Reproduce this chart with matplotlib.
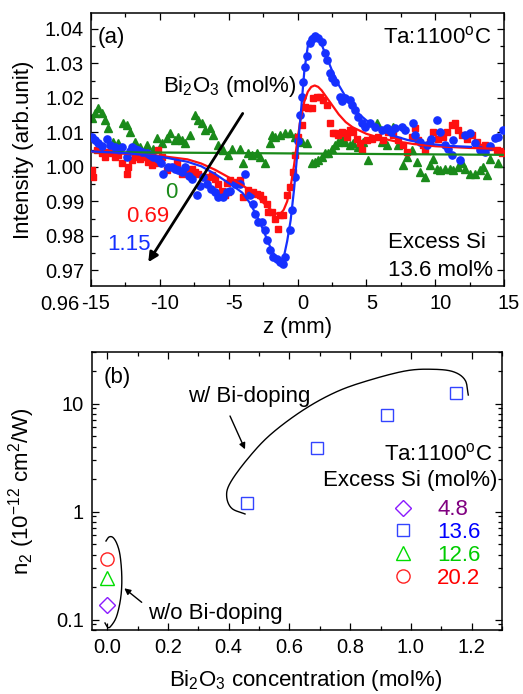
import numpy as np
import matplotlib
matplotlib.use("Agg")
import matplotlib.pyplot as plt
import matplotlib.transforms as mtransforms
from matplotlib.ticker import MultipleLocator, FixedLocator, FuncFormatter, LogLocator, NullFormatter

plt.rcParams['font.family'] = ['Liberation Sans', 'DejaVu Sans']
plt.rcParams['mathtext.fontset'] = 'custom'
plt.rcParams['mathtext.rm'] = 'Liberation Sans'
plt.rcParams['mathtext.it'] = 'Liberation Sans:italic'
plt.rcParams['mathtext.default'] = 'regular'

# ---------------- Panel (a) data: Z-scan traces ----------------
z_115 = [-14.95, -14.71, -14.47, -14.2, -13.86, -13.62, -13.26, -13.0, -12.77, -12.41, -12.2, -12.05,
         -11.8, -11.56, -11.3, -10.96, -10.7, -10.47, -10.11, -9.9, -9.75, -9.39, -9.14, -8.9, -8.66,
         -8.4, -8.17, -7.9, -7.69, -7.33, -7.1, -6.84, -6.6, -6.3, -6.0, -5.75, -5.39, -5.15,
         -4.90, -4.54, -4.18, -3.82, -3.45, -3.21, -3.09, -2.85, -2.61, -2.36, -2.24, -2.00, -1.76,
         -1.52, -1.28, -1.03, -0.91, -0.55, -0.43, -0.19, 0.06, 0.18, 0.30, 0.42, 0.54, 0.66, 0.90,
         1.07, 1.27, 1.51, 1.75, 1.99, 2.11, 2.36, 2.48, 2.72, 3.08, 3.20, 3.45, 3.81, 3.93, 4.17,
         4.41, 4.66, 4.90, 5.26, 5.62, 6.11, 6.47, 6.8, 7.08, 7.56, 7.80, 8.41, 8.53, 8.89, 9.38,
         9.7, 10.10, 10.34, 10.71, 10.95, 11.19, 11.31, 11.80, 12.16, 12.52, 12.89, 13.25, 13.61,
         14.0, 14.34, 14.58, 14.94]
T_115 = [1.0087, 1.0078, 1.0068, 1.0060, 1.0082, 1.0063, 1.0058, 1.0050, 1.0058, 1.0030, 1.0045, 1.0058,
         1.0052, 1.0049, 1.0042, 1.0039, 1.0035, 1.0030, 1.0024, 1.0010, 0.9980, 1.0000, 1.0000, 0.9995, 0.9990,
         0.9985, 1.0000, 0.9975, 0.9966, 0.9920, 0.9945, 0.9970, 0.9950, 0.9935, 0.9928, 0.9913, 0.9913, 0.9928,
         0.9930, 0.9950, 0.9950, 0.9980, 0.9920, 0.9894, 0.9865, 0.9840, 0.9840, 0.9816, 0.9787, 0.9760, 0.9740,
         0.9734, 0.9724, 0.9720, 0.9740, 0.9816, 0.9874, 0.9970, 1.0075, 1.0150, 1.0204, 1.0247, 1.0290, 1.0320, 1.0360,
         1.0370, 1.0378, 1.0373, 1.0363, 1.0329, 1.0310, 1.0271, 1.0257, 1.0247, 1.0204, 1.0190, 1.0199, 1.0194, 1.0180, 1.0165,
         1.0145, 1.0126, 1.0116, 1.0126, 1.0116, 1.0107, 1.0112, 1.0100, 1.0112, 1.0116, 1.0107, 1.0126, 1.0092, 1.0073, 1.0063,
         1.0080, 1.0136, 1.0102, 1.0063, 1.0053, 1.0034, 1.0078, 1.0020, 1.0092, 1.0097, 1.0068, 1.0049, 1.0044,
         1.0060, 1.0083, 1.0088, 1.0107]

z_069 = [-14.95, -14.83, -14.59, -14.23, -13.98, -13.74, -13.50, -13.26, -13.02, -12.77, -12.41, -12.29,
         -12.05, -11.80, -11.44, -11.08, -10.84, -10.60, -10.35, -10.11, -9.87, -9.50, -9.14, -8.78, -8.42,
         -8.05, -7.69, -7.45, -7.21, -6.84, -6.48, -6.24, -6.00, -5.75, -5.51, -5.27, -5.15, -5.03, -4.91,
         -4.54, -4.18, -3.94, -3.57, -3.21, -2.97, -2.73, -2.49, -2.24, -2.12, -1.88, -1.64, -1.40, -1.28,
         -1.03, -0.79, -0.55, -0.31, -0.19, 0.06, 0.30, 0.54, 0.78, 1.03, 1.15, 1.39, 1.63, 1.87, 2.11,
         2.36, 2.60, 2.72, 2.96, 3.20, 3.45, 3.57, 3.81, 4.05, 4.29, 4.54, 4.66, 5.02, 5.38, 5.87, 6.23,
         6.59, 6.96, 7.32, 7.68, 7.92, 8.29, 8.53, 8.77, 9.13, 9.26, 9.62, 9.86, 10.22, 10.59, 10.83,
         11.19, 11.43, 11.68, 11.92, 12.28, 12.64, 13.01, 13.25, 13.61, 13.98, 14.46, 14.82]
T_069 = [0.9990, 0.9971, 1.0049, 1.0039, 1.0030, 1.0044, 1.0040, 1.0030, 1.0034, 1.0010, 0.9980, 1.0000,
         1.0020, 1.0030, 1.0024, 1.0030, 1.0015, 1.0005, 1.0010, 1.0049, 1.0030, 0.9990, 1.0000, 1.0010, 0.9980,
         0.9990, 0.9995, 0.9985, 0.9980, 0.9970, 0.9970, 0.9976, 0.9965, 0.9950, 0.9930, 0.9918, 0.9952, 0.9928, 0.9961,
         0.9956, 0.9961, 0.9913, 0.9932, 0.9928, 0.9923, 0.9918, 0.9908, 0.9894, 0.9870, 0.9870, 0.9850, 0.9820, 0.9860,
         0.9860, 0.9918, 0.9942, 0.9985, 1.0034, 1.0087, 1.0121, 1.0174, 1.0170, 1.0170, 1.0199, 1.0204, 1.0204, 1.0194, 1.0180,
         1.0126, 1.0097, 1.0097, 1.0092, 1.0102, 1.0097, 1.0087, 1.0107, 1.0102, 1.0082, 1.0068, 1.0049, 1.0078, 1.0082, 1.0087, 1.0078,
         1.0102, 1.0092, 1.0078, 1.0063, 1.0044, 1.0087, 1.0112, 1.0078, 1.0063, 1.0049, 1.0073, 1.0102, 1.0082, 1.0087, 1.0102,
         1.0121, 1.0126, 1.0107, 1.0092, 1.0082, 1.0092, 1.0073, 1.0058, 1.0063, 1.0058, 1.0049, 1.0039]

z_0 = [-14.95, -14.71, -14.47, -14.23, -13.98, -13.74, -13.38, -13.02, -12.65, -12.41, -12.17, -11.80,
       -11.44, -10.96, -10.47, -10.23, -9.87, -9.50, -9.26, -8.90, -8.66, -8.42, -8.17, -7.81, -7.45,
       -7.21, -6.96, -6.72, -6.36, -6.12, -5.75, -5.39, -5.03, -4.79, -4.18, -3.94, -3.57, -3.33, -2.97,
       -2.73, -2.36, -2.00, -1.88, -1.64, -1.28, -0.91, -0.55, -0.19, 0.06, 0.30, 0.66, 1.03, 1.27, 1.51,
       1.75, 1.99, 2.24, 2.48, 2.72, 2.96, 3.20, 3.45, 3.81, 4.05, 4.41, 4.78, 5.14, 5.75, 6.11, 6.47,
       6.96, 7.32, 7.68, 7.92, 8.29, 8.65, 8.89, 9.26, 9.62, 9.86, 10.10, 10.34, 10.71, 11.07, 11.31,
       11.68, 11.92, 12.16, 12.52, 12.89, 13.25, 13.49, 13.74, 13.98, 14.58]
T_0 = [1.0141, 1.0155, 1.0170, 1.0155, 1.0136, 1.0112, 1.0073, 1.0068, 1.0126, 1.0121, 1.0102, 1.0073,
       1.0058, 1.0063, 1.0053, 1.0083, 1.0068, 1.0083, 1.0097, 1.0078, 1.0087, 1.0078, 1.0068, 1.0092, 1.0150,
       1.0136, 1.0126, 1.0107, 1.0112, 1.0092, 1.0063, 1.0049, 1.0034, 1.0053, 1.0053, 1.0010, 1.0039, 1.0034, 1.0039,
       1.0030, 1.0010, 1.0068, 1.0092, 1.0087, 1.0092, 1.0097, 1.0097, 1.0087, 1.0087, 1.0073, 1.0068, 1.0010, 1.0015, 1.0020,
       1.0030, 1.0039, 1.0039, 1.0053, 1.0063, 1.0073, 1.0082, 1.0073, 1.0063, 1.0068, 1.0058, 1.0073, 1.0020, 1.0126, 1.0073, 1.0063,
       1.0116, 1.0063, 1.0005, 1.0030, 1.0049, 1.0015, 0.9986, 0.9970, 1.0005, 1.0024, 0.9995, 0.9990, 0.9995, 0.9995, 0.9990,
       1.0000, 1.0010, 0.9995, 0.9980, 0.9980, 0.9990, 1.0000, 0.9976, 1.0024, 1.0010]

# fitted curves
zfit_115 = [-15, -12.5, -10, -8, -7, -6, -5, -4.5, -4, -3.5, -3, -2.5, -2, -1.75, -1.5, -1.25, -1.0,
            -0.75, -0.5, -0.25, 0, 0.25, 0.5, 0.75, 1.0, 1.25, 1.5, 1.75, 2.0, 2.5, 3.0, 3.5, 4.0, 4.5,
            5.0, 6.0, 7.0, 8.0, 9.0, 10.0, 11.0, 12.6]
Tfit_115 = [1.0045, 1.0040, 1.0030, 1.0015, 1.0002, 0.9980, 0.9953, 0.9940, 0.9925, 0.9898, 0.9862, 0.9818,
            0.9770, 0.9750, 0.9736, 0.9729, 0.9738, 0.9785, 0.9845, 0.9935, 1.0045, 1.0160, 1.0280, 1.0350,
            1.0378, 1.0383, 1.0375, 1.0355, 1.0330, 1.0280, 1.0237, 1.0203, 1.0175, 1.0152, 1.0135, 1.0108,
            1.0090, 1.0078, 1.0070, 1.0065, 1.0061, 1.0058]
zfit_069 = [-15, -12.5, -10, -8, -7, -6, -5, -4, -3, -2.5, -2, -1.6, -1.4, -1.2, -1.0, -0.75, -0.5,
            -0.25, 0, 0.25, 0.5, 0.75, 1.0, 1.25, 1.5, 1.75, 2.0, 2.5, 3.0, 3.5, 4.0, 5.0, 6.0, 7.0, 8.5,
            10, 12.5, 15]
Tfit_069 = [1.0044, 1.0038, 1.0032, 1.0022, 1.0010, 0.9992, 0.9970, 0.9947, 0.9918, 0.9897, 0.9878, 0.9866,
            0.9863, 0.9866, 0.9876, 0.9900, 0.9943, 1.0005, 1.0080, 1.0145, 1.0190, 1.0218, 1.0232, 1.0236,
            1.0232, 1.0222, 1.0208, 1.0180, 1.0152, 1.0130, 1.0115, 1.0096, 1.0084, 1.0075, 1.0066, 1.0060,
            1.0055, 1.0052]
zfit_0 = [-15, 15]
Tfit_0 = [1.0043, 1.0035]

# ---------------- Panel (b) data ----------------
nodope_conc = [0.0, 0.0, 0.0]
nodope_n2 = [0.135, 0.243, 0.365]        # excess Si 4.8, 12.6, 20.2
dope_conc = [0.46, 0.69, 0.92, 1.15]
dope_n2 = [1.21, 3.86, 7.9, 12.4]        # excess Si 13.6
legend_labels = ['4.8', '13.6', '12.6', '20.2']

FS_TICK = 14.5
FS_TXT = 16

fig = plt.figure(figsize=(5.23, 6.94), dpi=100)
W, H = 523.0, 694.0
axa = fig.add_axes([91 / W, 1 - 286 / H, 413 / W, 273 / H])
axb = fig.add_axes([92 / W, 1 - 630 / H, 410 / W, 278 / H])

for ax in (axa, axb):
    for s in ax.spines.values():
        s.set_linewidth(1.1)
    ax.tick_params(which='both', direction='in', top=True, right=True, width=0.9,
                   labelsize=FS_TICK)
    ax.tick_params(which='major', length=5)
    ax.tick_params(which='minor', length=3)

# ---- panel (a)
axa.plot(z_0, T_0, linestyle='none', marker='^', ms=5.5, color='#1a8a1a', mec='#1a8a1a', zorder=2)
axa.plot(z_069, T_069, linestyle='none', marker='s', ms=4.6, color='#ff1010', mec='#ff1010', zorder=3)
axa.plot(z_115, T_115, linestyle='none', marker='o', ms=5.2, color='#1530ff', mec='#1530ff', zorder=4)
axa.plot(zfit_0, Tfit_0, color='#1a8a1a', lw=1.6, zorder=5)
axa.plot(zfit_069, Tfit_069, color='#ff1010', lw=1.6, zorder=5)
axa.plot(zfit_115, Tfit_115, color='#1530ff', lw=1.6, zorder=6)

axa.set_xlim(-15, 15)
axa.set_ylim(0.9655, 1.0446)
axa.xaxis.set_major_locator(MultipleLocator(5))
axa.xaxis.set_minor_locator(MultipleLocator(2.5))
axa.yaxis.set_major_locator(FixedLocator([0.97, 0.98, 0.99, 1.00, 1.01, 1.02, 1.03, 1.04]))
axa.yaxis.set_minor_locator(MultipleLocator(0.005))
axa.yaxis.set_major_formatter(FuncFormatter(lambda v, p: f"{v:.2f}"))
axa.xaxis.set_major_formatter(FuncFormatter(lambda v, p: f"{v:.0f}"))
axa.tick_params(axis='x', which='major', pad=6)
axa.tick_params(axis='y', which='major', pad=5)
axa.text(-0.027, 0.9600, "0.96", transform=axa.get_yaxis_transform(), ha='right', va='center',
         fontsize=FS_TICK, clip_on=False)

axa.set_xlabel("z (mm)", fontsize=FS_TXT)
axa.set_ylabel("Intensity (arb.unit)", fontsize=FS_TXT)
axa.xaxis.set_label_coords(0.5, -0.112)
axa.yaxis.set_label_coords(-0.138, 0.5)

axa.text(0.017, 0.889, "(a)", transform=axa.transAxes, fontsize=FS_TXT, ha='left', va='baseline')
axa.text(0.968, 0.889, "Ta:1100$^{\\rm o}$C", transform=axa.transAxes, fontsize=FS_TXT,
         ha='right', va='baseline')
axa.text(0.956, 0.138, "Excess Si", transform=axa.transAxes, fontsize=FS_TXT, ha='right', va='baseline')
axa.text(0.973, 0.037, "13.6 mol%", transform=axa.transAxes, fontsize=FS_TXT, ha='right', va='baseline')
axa.text(-4.9, 1.0218, "Bi$_2$O$_3$ (mol%)", fontsize=FS_TXT, ha='center', va='baseline')
axa.text(-9.19, 0.9925, "0", color='#1a8a1a', fontsize=FS_TXT, ha='center', va='center')
axa.text(-10.86, 0.9857, "0.69", color='#ff1010', fontsize=FS_TXT, ha='center', va='center')
axa.text(-12.24, 0.9776, "1.15", color='#1530ff', fontsize=FS_TXT, ha='center', va='center')
axa.annotate('', xy=(-10.84, 0.9724), xytext=(-3.98, 1.0155),
             arrowprops=dict(arrowstyle='-|>', lw=2.0, color='black', mutation_scale=14,
                             shrinkA=0, shrinkB=0), zorder=7)

# ---- panel (b)
h_d, = axb.plot(nodope_conc[0], nodope_n2[0], linestyle='none', marker='D', ms=8.0, mfc='none',
                mec='#8a1aff', mew=1.0)
h_s, = axb.plot(dope_conc, dope_n2, linestyle='none', marker='s', ms=8.4, mfc='none',
                mec='#3344ff', mew=1.0)
h_t, = axb.plot(nodope_conc[1], nodope_n2[1], linestyle='none', marker='^', ms=10.5, mfc='none',
                mec='#00dd00', mew=1.0)
h_c, = axb.plot(nodope_conc[2], nodope_n2[2], linestyle='none', marker='o', ms=9.5, mfc='none',
                mec='#ff2222', mew=1.0)

axb.set_yscale('log')
axb.set_xlim(-0.05, 1.3)
axb.set_ylim(0.08, 30)
axb.xaxis.set_major_locator(MultipleLocator(0.2))
axb.xaxis.set_minor_locator(MultipleLocator(0.1))
axb.xaxis.set_major_formatter(FuncFormatter(lambda v, p: f"{v:.1f}"))
axb.yaxis.set_major_locator(FixedLocator([0.1, 1, 10]))
axb.yaxis.set_minor_locator(LogLocator(base=10, subs=np.arange(2, 10)))
axb.yaxis.set_minor_formatter(NullFormatter())
axb.yaxis.set_major_formatter(FuncFormatter(lambda v, p: f"{v:g}"))
axb.tick_params(axis='x', which='major', pad=6)
axb.tick_params(axis='y', which='major', pad=6)

axb.set_xlabel("Bi$_2$O$_3$ concentration (mol%)", fontsize=FS_TXT)
axb.set_ylabel("n$_2$ (10$^{-12}$ cm$^2$/W)", fontsize=FS_TXT)
axb.xaxis.set_label_coords(0.52, -0.135)
axb.yaxis.set_label_coords(-0.133, 0.5)

axb.text(0.028, 0.887, "(b)", transform=axb.transAxes, fontsize=FS_TXT, ha='left', va='baseline')
axb.text(0.235, 0.821, "w/ Bi-doping", transform=axb.transAxes, fontsize=FS_TXT, ha='left', va='baseline')
axb.text(0.137, 0.038, "w/o Bi-doping", transform=axb.transAxes, fontsize=FS_TXT, ha='left', va='baseline')
axb.text(0.976, 0.6115, "Ta:1100$^{\\rm o}$C", transform=axb.transAxes, fontsize=FS_TXT,
         ha='right', va='baseline')
axb.text(0.988, 0.519, "Excess Si (mol%)", transform=axb.transAxes, fontsize=FS_TXT,
         ha='right', va='baseline')

# enclosing loops (annotation strokes), in axes-fraction coordinates
def smooth(pts, n=12):
    p = np.asarray(pts, float)
    p = np.vstack([2 * p[0] - p[1], p, 2 * p[-1] - p[-2]])
    out = []
    for i in range(1, len(p) - 2):
        p0, p1, p2, p3 = p[i - 1], p[i], p[i + 1], p[i + 2]
        for t in np.linspace(0, 1, n, endpoint=False):
            out.append(0.5 * ((2 * p1) + (-p0 + p2) * t + (2 * p0 - 5 * p1 + 4 * p2 - p3) * t ** 2
                              + (-p0 + 3 * p1 - 3 * p2 + p3) * t ** 3))
    out.append(p[-2])
    return np.array(out)

big_loop = [(0.9178, 0.8453), (0.9098, 0.8993), (0.8812, 0.9291), (0.8324, 0.9378), (0.7676, 0.9327),
            (0.6780, 0.8993), (0.5968, 0.8572), (0.5154, 0.7914), (0.4341, 0.7014), (0.3773, 0.6115),
            (0.3366, 0.5277), (0.3285, 0.4795), (0.3407, 0.4378), (0.3732, 0.4173)]
small_loop = [(0.0341, 0.3201), (0.0415, 0.3345), (0.0512, 0.3327), (0.0610, 0.3094), (0.0683, 0.2698),
              (0.0724, 0.2050), (0.0720, 0.1439), (0.0671, 0.0899), (0.0585, 0.0432), (0.0463, 0.0144),
              (0.0390, 0.0090), (0.0317, 0.0252)]
for loop in (big_loop, small_loop):
    c = smooth(loop)
    axb.plot(c[:, 0], c[:, 1], transform=axb.transAxes, color='black', lw=1.0, clip_on=False)

axb.annotate('', xy=(0.3732, 0.650), xytext=(0.3366, 0.7698), xycoords='axes fraction',
             textcoords='axes fraction',
             arrowprops=dict(arrowstyle='-|>', lw=1.0, color='black', mutation_scale=9,
                             shrinkA=0, shrinkB=0))
axb.annotate('', xy=(0.0788, 0.150), xytext=(0.1212, 0.0996), xycoords='axes fraction',
             textcoords='axes fraction',
             arrowprops=dict(arrowstyle='-|>', lw=1.0, color='black', mutation_scale=9,
                             shrinkA=0, shrinkB=0))

# ---- legend of panel (b): place markers / labels where the original has them
LEG_MARKER_X = 402.7      # px from left
LEG_TEXT_X = 437.0        # px from left
LEG_FIRST_ROW_Y = 507.7   # px from top (marker centre)
def make_legend(anchor_x, anchor_y, pad):
    return axb.legend([h_d, h_s, h_t, h_c], legend_labels, loc='upper left',
                      bbox_to_anchor=(anchor_x, anchor_y), frameon=False, fontsize=FS_TXT,
                      labelcolor=['#800080', '#0000ff', '#00cc00', '#ff0000'],
                      borderpad=0, borderaxespad=0, labelspacing=0.08,
                      handlelength=2.0, handletextpad=pad, numpoints=1)

ax_x, ax_y, pad = 0.709, 0.485, 0.7
fs_px = FS_TXT * fig.dpi / 72.0
axw = axb.get_window_extent().width
axh = axb.get_window_extent().height
for _ in range(3):
    leg = make_legend(ax_x, ax_y, pad)
    fig.canvas.draw()
    r = fig.canvas.get_renderer()
    hnd = leg.legend_handles[0]
    xd, yd = hnd.get_xdata(), hnd.get_ydata()
    mx, my = hnd.get_transform().transform((xd[len(xd) // 2], yd[len(yd) // 2]))
    tx = leg.get_texts()[0].get_window_extent(r).x0
    want_mx = LEG_MARKER_X
    want_my = H - LEG_FIRST_ROW_Y
    pad += ((LEG_TEXT_X - LEG_MARKER_X) - (tx - mx)) / fs_px
    ax_x += (want_mx - mx) / axw
    ax_y += (want_my - my) / axh
    leg.remove()
leg = make_legend(ax_x, ax_y, pad)

# panel (a) x tick labels sit slightly right of their ticks in the original
fig.canvas.draw()
shift = mtransforms.ScaledTranslation(5 / 100.0, 0, fig.dpi_scale_trans)
for tick in axa.xaxis.get_major_ticks():
    tick.label1.set_transform(tick.label1.get_transform() + shift)

fig.savefig("out.png", dpi=100)
